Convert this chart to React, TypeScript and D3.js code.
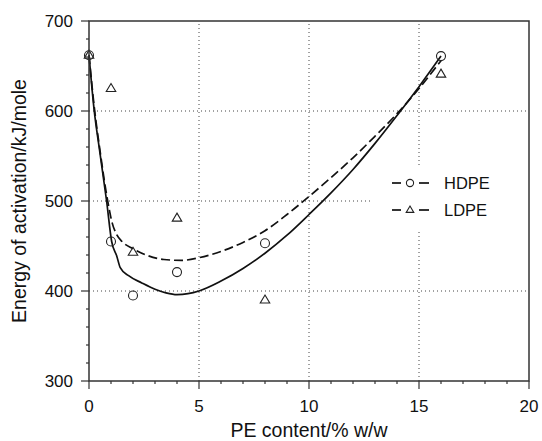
import React from 'react';
import * as d3 from 'd3';

// measured points
const hdpeX = [0, 1, 2, 4, 8, 16];
const hdpeY = [662, 455, 395, 421, 453, 661];
const ldpeX = [0, 1, 2, 4, 8, 16];
const ldpeY = [662, 625, 443, 481, 390, 641];

// fitted curves
const hdpeFitX = [0, 0.23, 0.5, 0.8, 1.03, 1.26, 1.42, 1.8, 2.4, 3, 3.5, 4, 4.5, 5, 6, 7, 8, 9, 10, 11, 12, 13, 14, 15, 16];
const hdpeFitY = [662, 602, 553, 500, 455, 439, 426, 417, 409, 402, 398, 396, 397, 400, 411, 425, 442, 462, 485, 509, 535, 564, 595, 627, 661];
const ldpeFitX = [0, 0.25, 0.5, 0.85, 1.05, 1.25, 1.5, 2, 2.6, 3.4, 4.2, 5, 6, 7, 8, 9, 10, 11, 12, 13, 14, 15, 16];
const ldpeFitY = [662, 602, 556, 500, 476, 463, 455, 447, 440, 435, 434, 437, 444, 454, 467, 485, 505, 526, 548, 572, 597, 625, 656];

const xMajor = [0, 5, 10, 15, 20];
const yMajor = [300, 400, 500, 600, 700];

const W = 542, H = 441;
const margin = { top: 21, right: 13, bottom: 60, left: 89 };
const font = '"Liberation Sans", Arial, Helvetica, sans-serif';
const axisColor = '#333';

export default function App() {
    const x = d3.scaleLinear().domain([0, 20]).range([margin.left, W - margin.right]);
    const y = d3.scaleLinear().domain([300, 700]).range([H - margin.bottom, margin.top]);
    const x0 = x(0), x1 = x(20), y0 = y(300), y1 = y(700);

    const line = d3.line<[number, number]>()
        .x(d => x(d[0]))
        .y(d => y(d[1]))
        .curve(d3.curveMonotoneX);
    const hdpeFit = hdpeFitX.map((v, i) => [v, hdpeFitY[i]] as [number, number]);
    const ldpeFit = ldpeFitX.map((v, i) => [v, ldpeFitY[i]] as [number, number]);

    const xMinor = d3.range(0, 21, 1);
    const yMinor = d3.range(300, 701, 20);

    const tri = (cx: number, cy: number, s: number) =>
        `M${cx},${cy - s}L${cx + s * 0.95},${cy + s * 0.6}L${cx - s * 0.95},${cy + s * 0.6}Z`;

    return (
        <svg width={W} height={H} style={{ position: 'absolute', left: 0, top: 0, background: '#fff' }}
            fontFamily={font}>
            <rect width={W} height={H} fill="#fff" />
            {/* grid */}
            {xMajor.filter(v => v > 0 && v < 20).map(v => (
                <line key={'gx' + v} x1={x(v)} x2={x(v)} y1={y0} y2={y1}
                    stroke="#444" strokeWidth={1} strokeDasharray="1,3" />
            ))}
            {yMajor.filter(v => v > 300 && v < 700).map(v => (
                <line key={'gy' + v} x1={x0} x2={x1} y1={y(v)} y2={y(v)}
                    stroke="#444" strokeWidth={1} strokeDasharray="1,3" />
            ))}
            {/* legend background hides grid */}
            <rect x={373} y={165} width={154} height={65} fill="#fff" />

            {/* curves */}
            <path d={line(ldpeFit) || ''} fill="none" stroke="#111" strokeWidth={1.7} strokeDasharray="9,4" />
            <path d={line(hdpeFit) || ''} fill="none" stroke="#111" strokeWidth={1.7} />

            {/* points */}
            {hdpeX.map((v, i) => (
                <circle key={'h' + i} cx={x(v)} cy={y(hdpeY[i])} r={4.5} fill="none" stroke="#222" strokeWidth={1.1} />
            ))}
            {ldpeX.map((v, i) => (
                <path key={'l' + i} d={tri(x(v), y(ldpeY[i]), 5)} fill="none" stroke="#222" strokeWidth={1.1} />
            ))}

            {/* frame */}
            <rect x={x0} y={y1} width={x1 - x0} height={y0 - y1} fill="none" stroke={axisColor} strokeWidth={1.5} />

            {/* ticks */}
            {xMinor.map(v => (
                <line key={'tx' + v} x1={x(v)} x2={x(v)} y1={y0} y2={y0 + (v % 5 === 0 ? 8 : 3)}
                    stroke={axisColor} strokeWidth={1.2} />
            ))}
            {yMinor.map(v => (
                <line key={'ty' + v} x1={x0} x2={x0 - (v % 100 === 0 ? 8 : 3)} y1={y(v)} y2={y(v)}
                    stroke={axisColor} strokeWidth={1.2} />
            ))}
            {xMajor.map(v => (
                <text key={'lx' + v} x={x(v)} y={y0 + 31} textAnchor="middle" fontSize={17} fill="#111">{v}</text>
            ))}
            {yMajor.map(v => (
                <text key={'ly' + v} x={x0 - 16} y={y(v) + 6} textAnchor="end" fontSize={17} fill="#111">{v}</text>
            ))}

            {/* axis titles */}
            <text x={(x0 + x1) / 2} y={437} textAnchor="middle" fontSize={19.5} fill="#111">PE content/% w/w</text>
            <text transform={`translate(26,${(y0 + y1) / 2}) rotate(-90)`} textAnchor="middle" fontSize={19.5} fill="#111">
                Energy of activation/kJ/mole
            </text>

            {/* legend */}
            <g>
                <line x1={392} x2={401} y1={183} y2={183} stroke="#111" strokeWidth={1.7} />
                <circle cx={410} cy={183} r={3.6} fill="none" stroke="#222" strokeWidth={1.1} />
                <line x1={419} x2={429} y1={183} y2={183} stroke="#111" strokeWidth={1.7} />
                <text x={444} y={189} fontSize={16.5} fill="#111">HDPE</text>
                <line x1={392} x2={401} y1={210} y2={210} stroke="#111" strokeWidth={1.7} />
                <path d={tri(410, 210, 4)} fill="none" stroke="#222" strokeWidth={1.1} />
                <line x1={419} x2={429} y1={210} y2={210} stroke="#111" strokeWidth={1.7} />
                <text x={444} y={216} fontSize={16.5} fill="#111">LDPE</text>
            </g>
        </svg>
    );
}
